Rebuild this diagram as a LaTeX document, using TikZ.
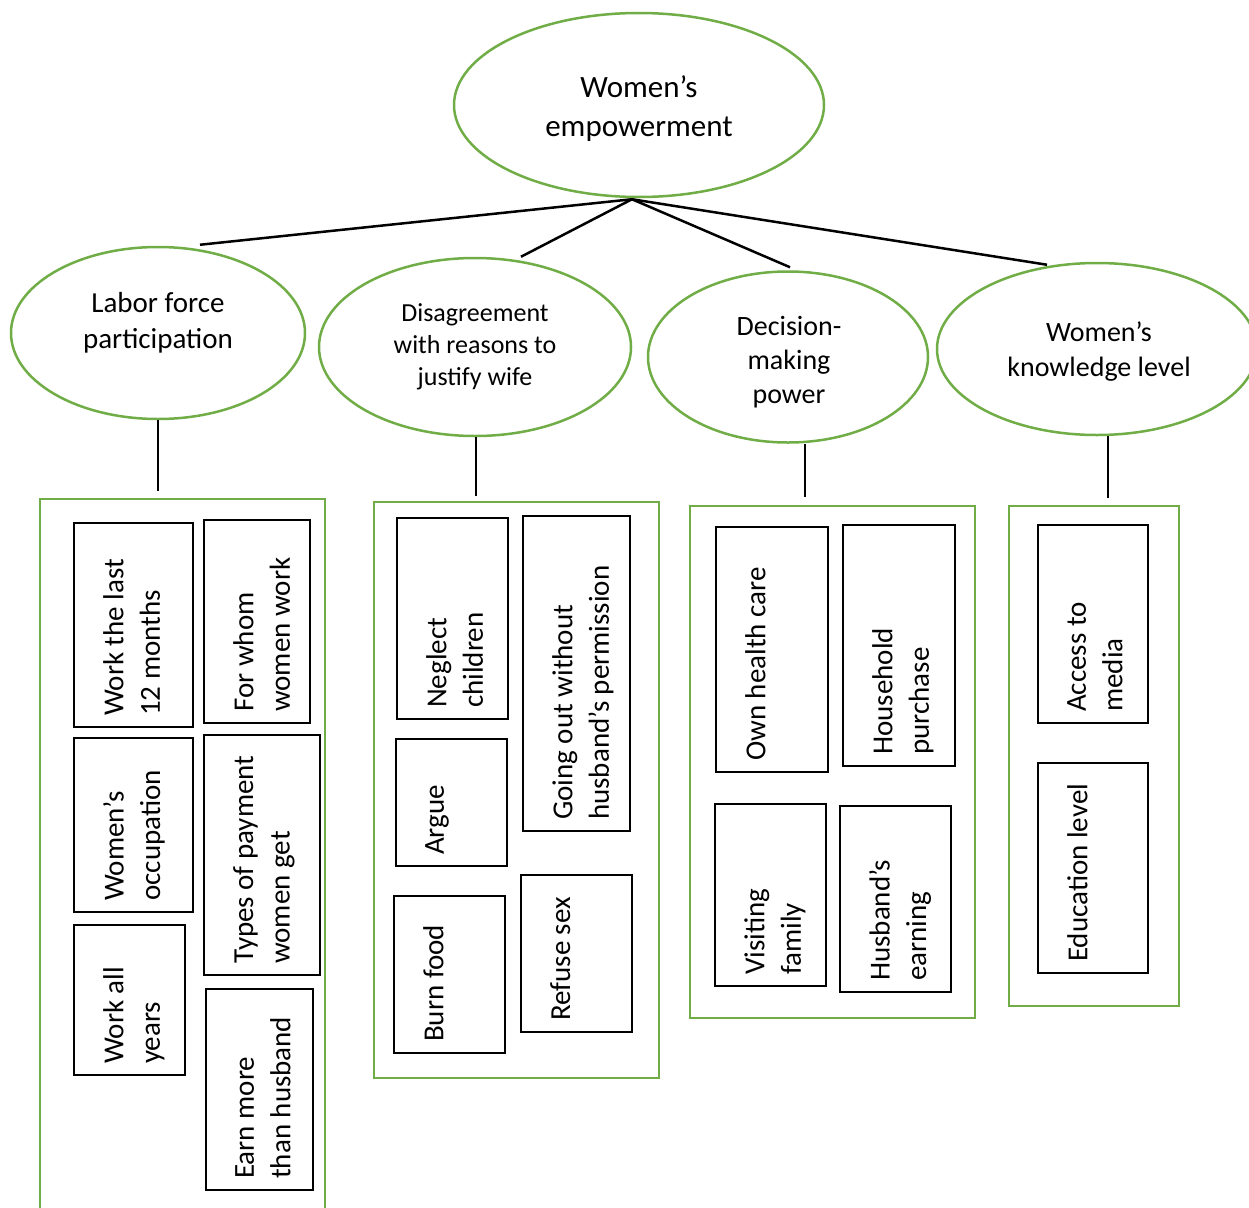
\documentclass[tikz,border=0pt]{standalone}
\usepackage{fontspec}
\setmainfont{Carlito}
\usetikzlibrary{shapes.geometric,calc}
\definecolor{ogreen}{RGB}{112,173,71}
\newcommand{\ibx}[6]{%
  \node[ibox, minimum width={#4-#2}, minimum height={#5-#3}] (#1) at ({(#2+#4)/2},{(#3+#5)/2}) {};
  \node[vtext] (#1t) at ($(#1.south west)+(30,-12)$) {#6};}
\begin{document}
\begin{tikzpicture}[x=1pt,y=-1pt,
  ell/.style={draw=ogreen, line width=2.5pt, ellipse, inner sep=0pt},
  etext/.style={align=center, inner sep=0pt},
  grp/.style={draw=ogreen, line width=2.5pt, rectangle, inner sep=0pt},
  ibox/.style={draw=black, line width=2pt, rectangle, inner sep=0pt},
  vtext/.style={rotate=90, anchor=north west, align=left, inner sep=0pt, font=\fontsize{29}{36.5}\selectfont},
  conn/.style={line width=2.5pt, black}]
\useasboundingbox (0,0) rectangle (1249,1207);
% top
\node[ell, minimum width=370, minimum height=184] (top) at (639,105) {};
\node[etext, font=\fontsize{31}{39}\selectfont] (topt) at (639,109) {Women’s\\empowerment};
% second level
\node[ell, minimum width=294, minimum height=172] (lab) at (158,333) {};
\node[etext, font=\fontsize{29}{36}\selectfont] (labt) at (158,323) {Labor force\\participation};
\node[ell, minimum width=312, minimum height=178] (dis) at (475,347) {};
\node[etext, font=\fontsize{26}{32}\selectfont] (dist) at (475,347) {Disagreement\\with reasons to\\justify wife};
\node[ell, minimum width=280, minimum height=171] (dec) at (788,357) {};
\node[etext, font=\fontsize{28}{34}\selectfont] (dect) at (789,362) {Decision-\\making\\power};
\node[ell, minimum width=320, minimum height=172] (kno) at (1097,349) {};
\node[etext, font=\fontsize{28}{35}\selectfont] (knot) at (1099,352) {Women’s\\knowledge level};
% connectors from top
\coordinate (hub) at ($(top.south)+(-7,1)$);
\draw[conn] (hub) -- ($(lab.north)+(42,-1)$);
\draw[conn] (hub) -- ($(dis.north)+(46,0)$);
\draw[conn] (hub) -- ($(dec.north)+(2,-3)$);
\draw[conn] (hub) -- ($(kno.north)+(-50,3)$);
% groups
\node[grp, minimum width=285, minimum height=726] (g1) at (182.5,862) {};
\node[grp, minimum width=285, minimum height=576] (g2) at (516.5,790) {};
\node[grp, minimum width=285, minimum height=512] (g3) at (832.5,762) {};
\node[grp, minimum width=170, minimum height=500] (g4) at (1094,756) {};
% vertical connectors
\draw[conn] (lab.south) -- ($(lab.south |- g1.north)+(0,-7)$);
\draw[conn] ($(dis.south)+(1,0)$) -- ($(dis.south |- g2.north)+(1,-5)$);
\draw[conn] ($(dec.south)+(17,0)$) -- ($(dec.south |- g3.north)+(17,-8)$);
\draw[conn] ($(kno.south)+(11,0)$) -- ($(kno.south |- g4.north)+(11,-7)$);
% inner boxes
\ibx{b1}{74}{523}{193}{727}{Work the last\\12 months}
\ibx{b2}{204}{520}{310}{723}{For whom\\women work}
\ibx{b3}{74}{738}{193}{912}{Women’s\\occupation}
\ibx{b4}{204}{735}{320}{975}{Types of payment\\women get}
\ibx{b5}{74}{925}{185}{1075}{Work all\\years}
\ibx{b6}{206}{989}{313}{1190}{Earn more\\than husband}
\ibx{c1}{397}{518}{508}{719}{Neglect\\children}
\ibx{c2}{523}{516}{630}{831}{Going out without\\husband’s permission}
\ibx{c3}{396}{739}{507}{866}{Argue}
\ibx{c4}{394}{896}{505}{1053}{Burn food}
\ibx{c5}{521}{875}{632}{1032}{Refuse sex}
\ibx{d1}{716}{527}{828}{772}{Own health care}
\ibx{d2}{843}{525}{955}{766}{Household\\purchase}
\ibx{d3}{715}{804}{826}{986}{Visiting\\family}
\ibx{d4}{840}{806}{951}{992}{Husband’s\\earning}
\ibx{e1}{1038}{525}{1148}{723}{Access to\\media}
\ibx{e2}{1038}{763}{1148}{973}{Education level}
\end{tikzpicture}
\end{document}
